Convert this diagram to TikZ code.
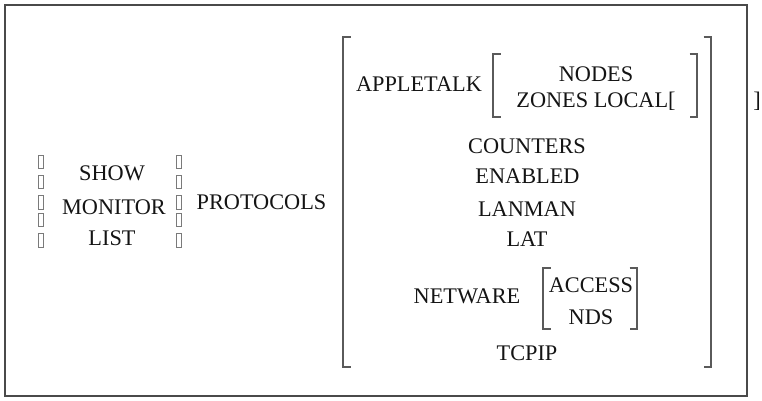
\documentclass[tikz,border=0pt]{standalone}
\usepackage{fontspec}
\setmainfont{Liberation Serif}
\usepackage{xcolor}
\usetikzlibrary{calc}
\definecolor{frameline}{HTML}{4A4A4A}
\definecolor{brkline}{HTML}{5A5A5A}
\definecolor{tofuline}{HTML}{7A7A7A}
\definecolor{cmdtext}{HTML}{141414}

% square bracket: x, y top, y bottom, tick direction (+1 opens right, -1 opens left)
\newcommand{\sqbrk}[4]{\draw[brk] ($(#1,#2)+(#4*7.5,0)$) -- (#1,#2) -- (#1,#3) -- ++(#4*7.5,0);}

\begin{document}
\begin{tikzpicture}[x=1pt, y=-1pt,
    word/.style={anchor=base, inner sep=0pt, font=\fontsize{22.3}{26}\selectfont, text=cmdtext},
    brk/.style={draw=brkline, line width=1.4pt},
    tofu/.style={draw=tofuline, line width=0.9pt}]
    \useasboundingbox (0,0) rectangle (762,401);
    \draw[frameline, line width=1.5pt] (5,5) rectangle (747,396);

    % verb column with its unset brace pieces
    \node[word] (show) at (112,180) {SHOW};
    \node[word] (monitor) at (114,214) {MONITOR};
    \node[word] (list) at (112,245) {LIST};
    \foreach \yt/\yb in {155/168,175/188,195/209,213/226,233/247} {
      \draw[tofu] (38.5,\yt) rectangle (43.5,\yb);
      \draw[tofu] (176.5,\yt) rectangle (181.5,\yb);
    }
    \node[word] (protocols) at (261.5,209) {PROTOCOLS};

    % protocol list
    \sqbrk{343}{37}{367}{1}
    \sqbrk{711}{37}{367}{-1}
    \node[word] (appletalk) at (419,92) {APPLETALK};
    \sqbrk{493}{54}{117}{1}
    \sqbrk{697}{54}{117}{-1}
    \node[word] (nodes) at (596,82) {NODES};
    \node[word] (zones) at (596,107) {ZONES LOCAL[};
    \node[word] (stray) at (757,107) {]};
    \node[word] (counters) at (527,153) {COUNTERS};
    \node[word] (enabled) at (527.5,183) {ENABLED};
    \node[word] (lanman) at (527,216) {LANMAN};
    \node[word] (lat) at (527,246) {LAT};
    \node[word] (netware) at (467,303) {NETWARE};
    \sqbrk{543}{268}{329}{1}
    \sqbrk{637}{268}{329}{-1}
    \node[word] (access) at (591,292) {ACCESS};
    \node[word] (nds) at (591,324) {NDS};
    \node[word] (tcpip) at (527,360) {TCPIP};
\end{tikzpicture}
\end{document}
